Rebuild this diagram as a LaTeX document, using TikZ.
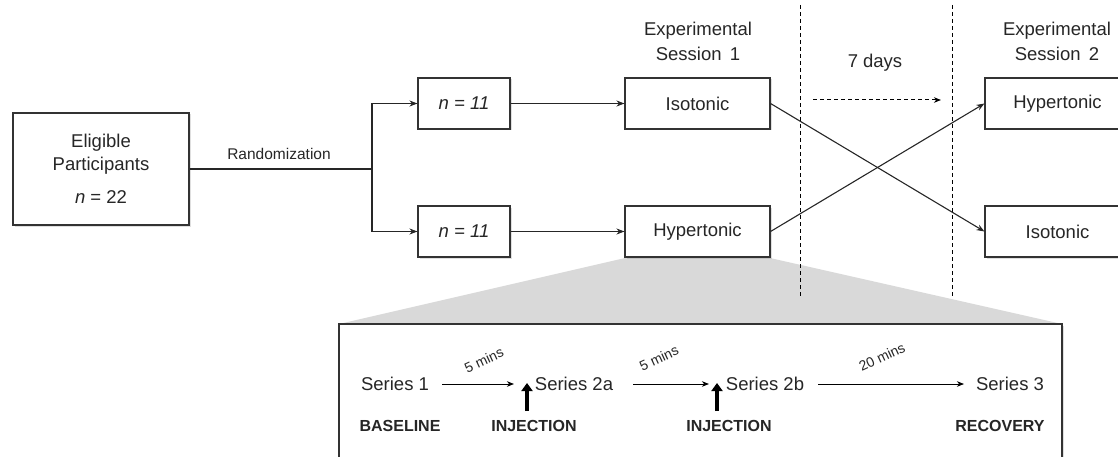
\documentclass[tikz,border=0pt]{standalone}
\usepackage{fontspec}
\setmainfont{Liberation Sans}
\usetikzlibrary{arrows.meta,shadows}
\begin{document}
\begin{tikzpicture}[x=1pt,y=-1pt,text=black!85,
  box/.style={draw=black!80,line width=1.1pt,fill=white,inner sep=0pt,
    drop shadow={shadow xshift=1.5pt,shadow yshift=-1.5pt,opacity=0.25,fill=black!50},
    font=\fontsize{18.5}{23}\selectfont},
  conn/.style={draw=black!85,line width=1.1pt},
  arr/.style={conn,-{Stealth[length=8pt,width=6pt,inset=2.5pt]}},
  thinarr/.style={draw=black,line width=1pt,-{Stealth[length=7pt,width=5.5pt,inset=2pt]}},
  thickarr/.style={draw=black,line width=4pt,-{Triangle[length=8pt,width=11pt]}},
  vdash/.style={draw=black,line width=1pt,dash pattern=on 4pt off 3pt},
  lbl/.style={font=\fontsize{18.5}{25}\selectfont,align=center,inner sep=0pt},
  small/.style={font=\fontsize{15.5}{18}\selectfont,inner sep=0pt},
  mins/.style={font=\fontsize{14}{16}\selectfont,inner sep=0pt,rotate=25},
  phase/.style={font=\fontsize{16}{18}\selectfont\bfseries,inner sep=0pt},
  series/.style={font=\fontsize{18.5}{22}\selectfont,inner sep=0pt}]
\clip (0,0) rectangle (1118,457);
% grey zoom trapezoid
\fill[black!15] (625,258) -- (770,258) -- (1062,324) -- (339,324) -- cycle;
% dashed separators
\draw[vdash] (800,5) -- (800,297);
\draw[vdash] (952,5) -- (952,297);
% boxes
\node[box,minimum width=176pt,minimum height=112pt,align=center] (elig) at (101,169)
  {Eligible\\Participants\\[10pt]\textit{n} = 22};
\node[box,minimum width=92pt,minimum height=51pt] (n1) at (464,103.5) {\textit{n = 11}};
\node[box,minimum width=92pt,minimum height=51pt] (n2) at (464,231.5) {\textit{n = 11}};
\node[box,minimum width=145pt,minimum height=51pt] (iso1) at (697.5,103.5) {Isotonic};
\node[box,minimum width=145pt,minimum height=51pt] (hyp1) at (697.5,231.5) {Hypertonic};
\node[box,minimum width=145pt,minimum height=51pt] (hyp2) at (1057.5,103.5) {Hypertonic};
\node[box,minimum width=145pt,minimum height=51pt] (iso2) at (1057.5,231.5) {Isotonic};
\node[box,minimum width=723pt,minimum height=146pt] (zoombox) at (700.5,397) {};
% headings
\node[lbl] (es1) at (698,41) {Experimental\\Session\hspace{0.45em}1};
\node[lbl] (es2) at (1057,41) {Experimental\\Session\hspace{0.45em}2};
\node[lbl] (days) at (875,63) {7 days};
\node[small] (rand) at (279,154) {Randomization};
% randomization connectors
\coordinate (branch) at (372,169);
\draw[conn] (elig.east) -- (branch);
\draw[arr] (branch) |- (n1.west);
\draw[arr] (branch) |- (n2.west);
\draw[arr] (n1.east) -- (iso1.west);
\draw[arr] (n2.east) -- (hyp1.west);
\draw[arr] (iso1.east) -- (iso2.west);
\draw[arr] (hyp1.east) -- (hyp2.west);
% 7 days arrow
\coordinate (d1) at (813,100);
\coordinate (d2) at (941,100);
\draw[thinarr,dash pattern=on 4pt off 3pt] (d1) -- (d2);
% series
\node[series] (s1) at (395,384) {Series 1};
\node[series] (s2a) at (574,384) {Series 2a};
\node[series] (s2b) at (765,384) {Series 2b};
\node[series] (s3) at (1010,384) {Series 3};
\coordinate (a1s) at (442,384);
\coordinate (a1e) at (514,384);
\coordinate (a2s) at (633,384);
\coordinate (a2e) at (709,384);
\coordinate (a3s) at (818,384);
\coordinate (a3e) at (964,384);
\draw[thinarr] (a1s) -- (a1e);
\draw[thinarr] (a2s) -- (a2e);
\draw[thinarr] (a3s) -- (a3e);
\node[mins] (m1) at (484,360) {5 mins};
\node[mins] (m2) at (659,358) {5 mins};
\node[mins] (m3) at (882,357) {20 mins};
% injections
\coordinate (i1b) at (527,411);
\coordinate (i1t) at (527,383);
\coordinate (i2b) at (717,411);
\coordinate (i2t) at (717,383);
\draw[thickarr] (i1b) -- (i1t);
\draw[thickarr] (i2b) -- (i2t);
% phase labels
\node[phase] (base) at (400,426) {BASELINE};
\node[phase] (inj1) at (534,426) {INJECTION};
\node[phase] (inj2) at (729,426) {INJECTION};
\node[phase] (rec) at (1000,426) {RECOVERY};
\end{tikzpicture}
\end{document}
